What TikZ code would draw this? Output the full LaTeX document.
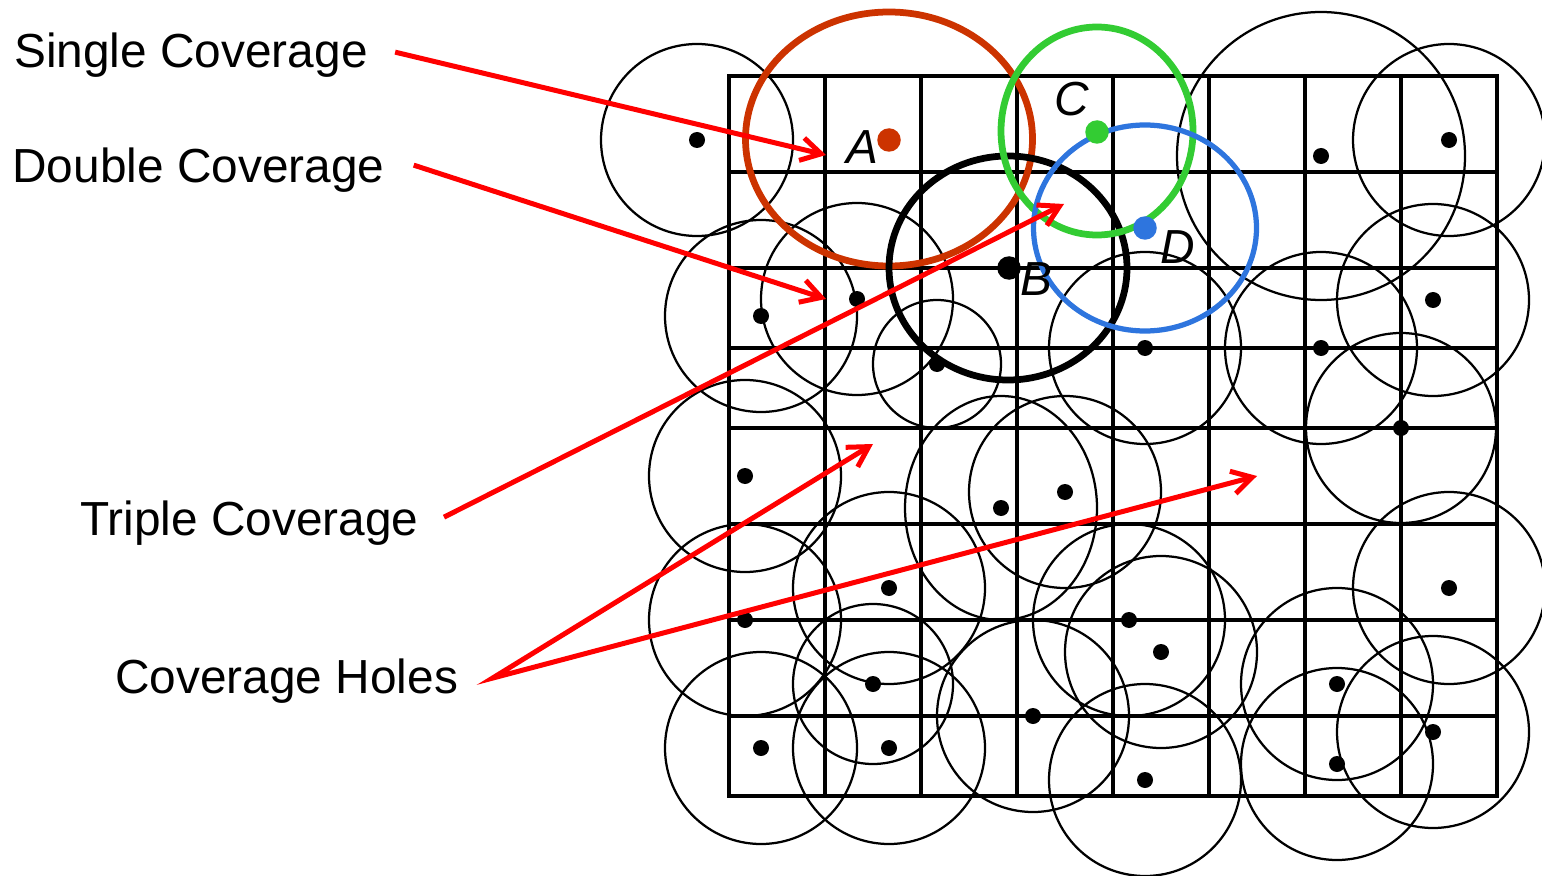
\documentclass[tikz,border=0pt]{standalone}
\usepackage{fontspec}
\setmainfont{Liberation Sans}
\usepackage{tikz}
\usetikzlibrary{arrows.meta}

\definecolor{rangeA}{RGB}{204,51,0}
\definecolor{rangeC}{RGB}{51,204,51}
\definecolor{rangeD}{RGB}{46,117,222}

\begin{document}
\begin{tikzpicture}[
    x=0.2mm, y=-0.2mm, font=\fontsize{27.2}{32}\selectfont,
    sensor/.style={circle, fill, inner sep=0pt, minimum size=3.2mm},
    head/.style={circle, fill, inner sep=0pt, minimum size=4.7mm},
    reach/.style={line width=0.45mm},
    hilite/.style={line width=1.35mm},
    cell/.style={line width=0.62mm, line cap=rect},
    lbl/.style={anchor=base west, inner sep=0pt},
    tag/.style={lbl, font=\fontsize{27.2}{32}\selectfont\itshape},
    pointer/.style={red, line width=1mm},
    >={Straight Barb[length=4mm, width=4.6mm]}]
\useasboundingbox (0,0) rectangle (1542,876);

\foreach \x in {729,825,...,1497} \draw[cell] (\x,76) -- (\x,796);
\foreach \y in {76,172,268,348,428,524,620,716,796} \draw[cell] (729,\y) -- (1497,\y);

\foreach \n/\x/\y/\r in {1/697/140/96, 2/761/316/96, 3/857/299/96, 4/937/364/64,
    5/1145/348/96, 6/1321/156/144, 7/1449/140/96, 8/1433/300/96, 9/1321/348/96,
    10/1401/428/95, 11/745/476/96, 13/1065/492/96, 14/889/588/96, 15/745/620/96,
    16/873/684/80, 17/761/748/96, 18/889/748/96, 19/1033/716/96, 20/1129/620/96,
    21/1161/652/96, 22/1145/780/96, 23/1337/684/96, 24/1337/764/96,
    25/1433/732/96, 26/1449/588/96} {
  \node[sensor] (s\n) at (\x,\y) {};
  \draw[reach] (s\n.center) circle[radius=\r];
}
\node[sensor] (s12) at (1001,508) {};
\draw[reach] (s12.center) ellipse[x radius=96, y radius=112];

\draw[hilite, rangeA] (889,139) ellipse[x radius=143.5, y radius=127];
\draw[hilite] (1008,268) ellipse[x radius=119, y radius=112];
\draw[hilite, rangeC] (1097,131) ellipse[x radius=96, y radius=104];
\draw[hilite, rangeD, line width=1.05mm] (1145,228) ellipse[x radius=111.5, y radius=103];
\node[head, rangeA] (a) at (889,140) {};
\node[head] (b) at (1009,268) {};
\node[head, rangeC] (c) at (1097,132) {};
\node[head, rangeD] (d) at (1145,228) {};
\node[tag] (tagA) at (846,164) {A};
\node[tag] (tagB) at (1020,295) {B};
\node[tag] (tagC) at (1054,116) {C};
\node[tag] (tagD) at (1160,263) {D};

\node[lbl] (single) at (14,68) {Single Coverage};
\node[lbl] (double) at (12,183) {Double Coverage};
\node[lbl] (triple) at (80,535) {Triple Coverage};
\node[lbl] (holes) at (115,693) {Coverage Holes};

\coordinate (hitA) at (826,155);
\coordinate (hitB) at (826,299);
\coordinate (hitC) at (1064,204);
\coordinate (holeA) at (873,444);
\coordinate (holeB) at (1257,476);

\draw[pointer, ->] ([shift={(27,-3.5)}]single.east) -- (hitA);
\draw[pointer, ->] ([shift={(29,-5.5)}]double.east) -- (hitB);
\draw[pointer, ->] ([shift={(25,-5.5)}]triple.east) -- (hitC);
\draw[pointer, <->] (holeA) -- ([shift={(34,-2.5)}]holes.east) -- (holeB);
\end{tikzpicture}
\end{document}
